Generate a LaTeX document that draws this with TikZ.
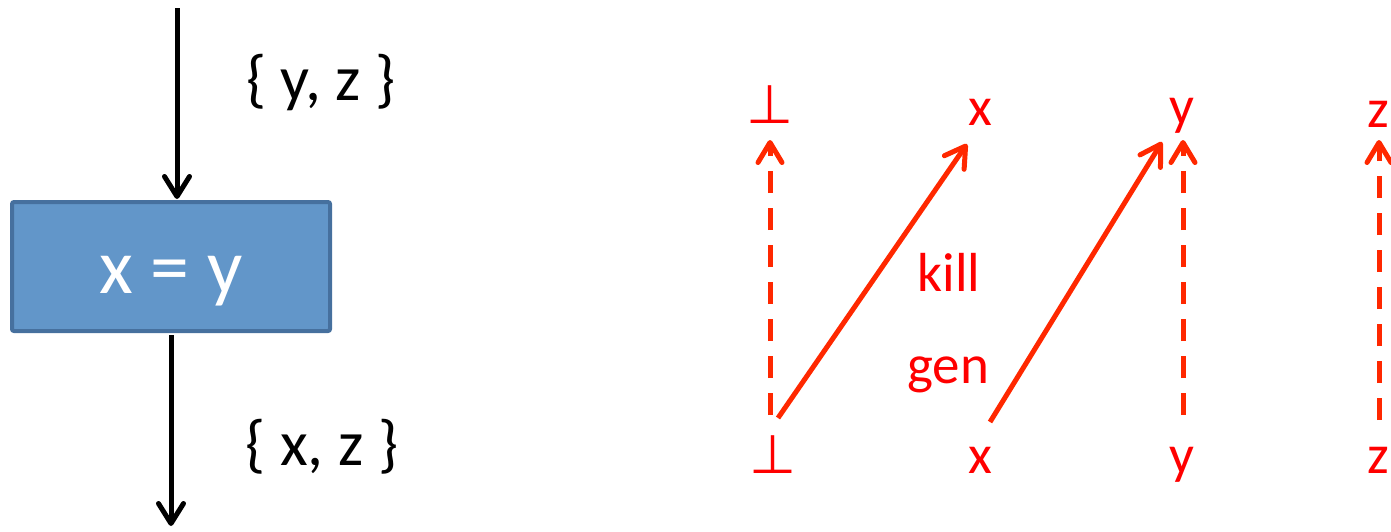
\documentclass[tikz,border=0pt]{standalone}
\usepackage{fontspec}
\setmainfont{Carlito}
\newfontfamily\symbolfont{DejaVu Sans}
\usetikzlibrary{arrows.meta}
\definecolor{boxfill}{RGB}{98,150,201}
\definecolor{boxline}{RGB}{70,112,158}
\definecolor{redtext}{RGB}{255,0,0}
\definecolor{redline}{RGB}{255,40,0}
\tikzset{
  blackarrow/.style={line width=5pt, black, -{Straight Barb[length=20pt,width=25pt,line width=5pt,round]}},
  redarrow/.style={line width=5pt, redline, -{Straight Barb[length=20pt,width=24pt,line width=5pt,round]}},
  reddashed/.style={redarrow, dash pattern=on 22pt off 15pt},
  blacklabel/.style={font=\fontsize{64}{64}\selectfont, anchor=base, inner sep=0pt},
  redlabel/.style={font=\fontsize{55}{55}\selectfont, text=redtext, anchor=base, inner sep=0pt},
  botsym/.style={font=\symbolfont\fontsize{54}{54}\selectfont, text=redtext, anchor=base, inner sep=0pt},
  stmtbox/.style={draw=boxline, fill=boxfill, line width=4pt, rounded corners=2pt, minimum width=318pt, minimum height=129pt, inner sep=0pt}
}
\begin{document}
\begin{tikzpicture}[x=1pt,y=-1pt]
\useasboundingbox (0,0) rectangle (1391,531);
% left part
\node[stmtbox] (box) at (171,266.5) {};
\node[font=\fontsize{78}{78}\selectfont, text=white, anchor=base, inner sep=0pt] (stmt) at (171,293) {x = y};
\coordinate (intop) at (177,8);
\coordinate (inbot) at (177,199);
\coordinate (outtop) at (171,335);
\coordinate (outbot) at (171,526);
\draw[blackarrow] (intop) -- (inbot);
\draw[blackarrow] (outtop) -- (outbot);
\node[blacklabel] (inset) at (321,100) {\{ y, z \}};
\node[blacklabel] (outset) at (322,465) {\{ x, z \}};
% right part: top row
\node[botsym] (tbot) at (770,123) {⊥};
\node[redlabel] (tx) at (980,125) {x};
\node[redlabel] (ty) at (1182,124) {y};
\node[redlabel] (tz) at (1378,127) {z};
% bottom row
\node[botsym] (bbot) at (773,473) {⊥};
\node[redlabel] (bx) at (980,473) {x};
\node[redlabel] (by) at (1182,473) {y};
\node[redlabel] (bz) at (1378,473) {z};
% labels
\node[redlabel] (kill) at (949,291) {kill};
\node[redlabel] (gen) at (948,383) {gen};
% connector endpoints
\coordinate (d1s) at (770,415);
\coordinate (d1e) at (770,140);
\coordinate (s1s) at (778,418);
\coordinate (s1e) at (967,144);
\coordinate (s2s) at (990,422);
\coordinate (s2e) at (1162,142);
\coordinate (d2s) at (1183,415);
\coordinate (d2e) at (1183,140);
\coordinate (d3s) at (1379,420);
\coordinate (d3e) at (1379,140);
\draw[reddashed] (d1s) -- (d1e);
\draw[redarrow] (s1s) -- (s1e);
\draw[redarrow] (s2s) -- (s2e);
\draw[reddashed] (d2s) -- (d2e);
\draw[reddashed] (d3s) -- (d3e);
\end{tikzpicture}
\end{document}
